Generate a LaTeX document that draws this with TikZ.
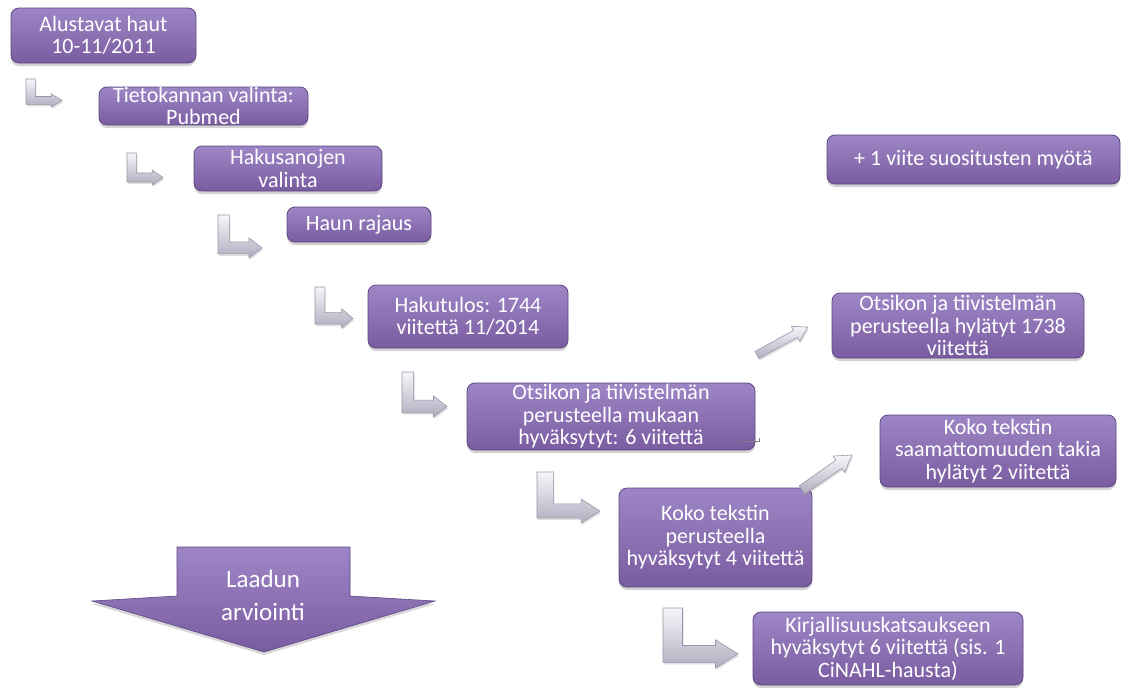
\documentclass[tikz,border=0pt]{standalone}
\usepackage{fontspec}
\setmainfont{Carlito}
\usetikzlibrary{shadows,calc}

\definecolor{boxtop}{HTML}{9E86C6}
\definecolor{boxbot}{HTML}{7A5CA0}
\definecolor{boxline}{HTML}{5E4784}
\definecolor{arrtop}{HTML}{F7F6FA}
\definecolor{arrbot}{HTML}{B2ADC0}
\definecolor{arrline}{HTML}{9A95A8}

\tikzset{
  box/.style={rectangle, rounded corners=8pt, draw=boxline, line width=0.8pt,
    top color=boxtop, bottom color=boxbot, inner sep=0pt,
    drop shadow={opacity=0.35, shadow xshift=0pt, shadow yshift=-3pt}},
  txt/.style={text=white, align=center, inner sep=0pt,
    font=\fontsize{22}{22.5}\selectfont},
  bigtxt/.style={text=white, align=center, inner sep=0pt,
    font=\fontsize{25}{33}\selectfont},
  bent/.style={draw=arrline, line width=0.6pt, top color=arrtop, bottom color=arrbot,
    line join=miter,
    drop shadow={opacity=0.25, shadow xshift=1pt, shadow yshift=-2pt}},
  fat/.style={draw=arrline, line width=0.6pt, top color=arrtop, bottom color=arrbot,
    line join=miter,
    drop shadow={opacity=0.25, shadow xshift=1pt, shadow yshift=-2pt}},
  bigarrow/.style={draw=boxline, line width=0.6pt, top color=boxtop, bottom color=boxbot,
    drop shadow={opacity=0.3, shadow xshift=0pt, shadow yshift=-3pt}},
}

% L-shaped "next step" arrow: name, left, top, width, height
\newcommand\bentarrow[5]{%
  \pgfmathsetmacro\BAw{#4}%
  \pgfmathsetmacro\BAh{#5}%
  \pgfmathsetmacro\BAt{0.26*\BAw}%  vertical bar width
  \pgfmathsetmacro\BAs{0.28*\BAh}%  horizontal bar thickness
  \pgfmathsetmacro\BAl{0.30*\BAw}%  head length
  \pgfmathsetmacro\BAhh{0.47*\BAh}% head height
  \pgfmathsetmacro\BAc{\BAh-\BAhh/2}%
  \coordinate (#1) at (#2,#3);
  \begin{scope}[shift={(#1)}]
    \path[bent] (0,0) -- (\BAt,0) -- (\BAt,{\BAc-\BAs/2})
      -- ({\BAw-\BAl},{\BAc-\BAs/2}) -- ({\BAw-\BAl},{\BAc-\BAhh/2})
      -- (\BAw,\BAc) -- ({\BAw-\BAl},{\BAc+\BAhh/2})
      -- ({\BAw-\BAl},{\BAc+\BAs/2}) -- (0,{\BAc+\BAs/2}) -- cycle;
  \end{scope}
}

% straight block arrow from a named start point:
% start, angle, length, shaft width, head width, head length
\newcommand\blockarrow[6]{%
  \pgfmathsetmacro\FAl{#3}%
  \pgfmathsetmacro\FAs{#4/2}%
  \pgfmathsetmacro\FAw{#5/2}%
  \pgfmathsetmacro\FAk{#3-#6}%
  \begin{scope}[shift={(#1)}, rotate=#2]
    \path[fat] (0,-\FAs) -- (\FAk,-\FAs) -- (\FAk,-\FAw) -- (\FAl,0)
      -- (\FAk,\FAw) -- (\FAk,\FAs) -- (0,\FAs) -- cycle;
  \end{scope}
}

\begin{document}
\begin{tikzpicture}[x=1pt, y=-1pt]
  \useasboundingbox[fill=white] (0,0) rectangle (1124,688);

  % step boxes
  \node[box, minimum width=185, minimum height=55] (alku) at (103.5,35.5) {};
  \node[txt] (alku-t) at (alku) {Alustavat haut\\10-11/2011};

  \node[box, minimum width=209, minimum height=38] (tieto) at (203.5,106) {};
  \node[txt] (tieto-t) at (tieto) {Tietokannan valinta:\\Pubmed};

  \node[box, minimum width=188, minimum height=45] (sanat) at (288,168.5) {};
  \node[txt] (sanat-t) at (sanat) {Hakusanojen\\valinta};

  \node[box, minimum width=144, minimum height=35] (rajaus) at (359,224.5) {};
  \node[txt] (rajaus-t) at (rajaus) {Haun rajaus};

  \node[box, minimum width=200, minimum height=63] (tulos) at (468,316.5) {};
  \node[txt] (tulos-t) at (tulos) {Hakutulos: 1744\\viitettä 11/2014};

  \node[box, minimum width=288, minimum height=67] (mukaan) at (611,416.5) {};
  \node[txt] (mukaan-t) at (mukaan) {Otsikon ja tiivistelmän\\perusteella mukaan\\hyväksytyt: 6 viitettä};

  \node[box, minimum width=193, minimum height=99] (koko) at (715.5,537.5) {};
  \node[txt] (koko-t) at (koko) {Koko tekstin\\perusteella\\hyväksytyt 4 viitettä};

  \node[box, minimum width=270, minimum height=73] (kirj) at (888,648.5) {};
  \node[txt] (kirj-t) at (kirj) {Kirjallisuuskatsaukseen\\hyväksytyt 6 viitettä (sis. 1\\CiNAHL-hausta)};

  \node[box, minimum width=236, minimum height=72] (saam) at (998,451) {};
  \node[txt] (saam-t) at (saam) {Koko tekstin\\saamattomuuden takia\\hylätyt 2 viitettä};

  \node[box, minimum width=293, minimum height=49] (plus) at (973.5,159.5) {};
  \node[txt] (plus-t) at (plus) {+ 1 viite suositusten myötä};

  \node[box, minimum width=252, minimum height=65] (hyl) at (958,325.5) {};
  \node[txt] (hyl-t) at (hyl) {Otsikon ja tiivistelmän\\perusteella hylätyt 1738\\viitettä};

  % L-shaped arrows between the steps
  \bentarrow{b1}{26}{79}{36}{28}
  \bentarrow{b2}{127}{153}{36}{32}
  \bentarrow{b3}{218}{215}{44}{43}
  \bentarrow{b4}{315}{287}{38}{41}
  \bentarrow{b5}{402}{372}{45}{45}
  \bentarrow{b6}{537}{472}{63}{51}
  \bentarrow{b7}{663}{608}{75}{60}

  % branching arrows towards the rejected references
  \coordinate (d1s) at (757,355);
  \blockarrow{d1s}{28.8}{58}{8}{17}{14}
  \coordinate (d2s) at (802,490);
  \blockarrow{d2s}{35}{61}{10}{20}{16}

  % small stray mark at the corner of the screening box
  \draw[gray, line width=0.6pt] (738,441) -- (759,441) -- (759,438);

  % quality assessment block arrow
  \path[bigarrow] (177,547) -- (350,547) -- (350,596) -- (435,601)
    -- (264,652) -- (92,601) -- (177,596) -- cycle;
  \node[bigtxt] (laatu) at (263,595) {Laadun\\arviointi};
\end{tikzpicture}
\end{document}
